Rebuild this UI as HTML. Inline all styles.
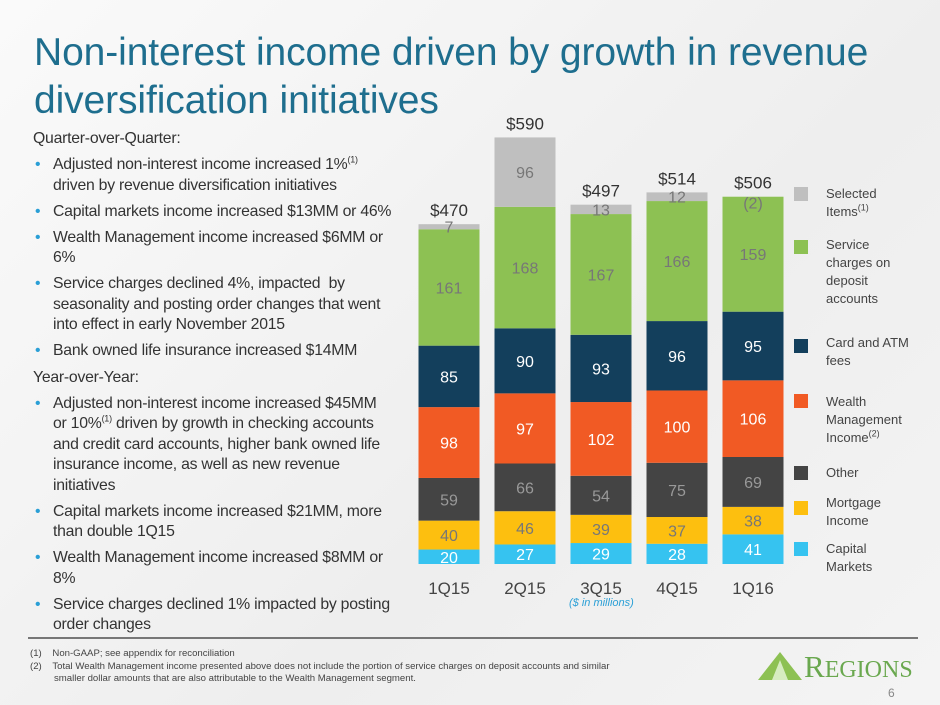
<!DOCTYPE html>
<html><head><meta charset="utf-8"><style>
body{margin:0;width:940px;height:705px;overflow:hidden;font-family:"Liberation Sans",sans-serif;background:linear-gradient(135deg,#fafafa 0%,#eeeeee 60%,#f4f4f4 100%);position:relative}
.t{position:absolute}
h1{position:absolute;left:34px;top:29px;margin:0;font-weight:normal;font-size:39px;line-height:48px;color:#1e6e8e;letter-spacing:-0.1px;white-space:nowrap}
.left{position:absolute;left:33px;top:129px;width:390px;font-size:15.8px;color:#333;line-height:20.5px;white-space:nowrap;letter-spacing:-0.25px}
.left p{margin:0 0 5.6px 0}
.left .b{padding-left:20px;position:relative}
.left .b:before{content:"•";position:absolute;left:2px;color:#2a9fd6}
sup{font-size:9px;line-height:0}
.leg{position:absolute;left:826px;font-size:13px;color:#444;line-height:18px}
.sw{position:absolute;left:794px;width:14px;height:14px}
</style></head><body>
<h1>Non-interest income driven by growth in revenue<br>diversification initiatives</h1>
<div class="left">
<p>Quarter-over-Quarter:</p>
<p class="b">Adjusted non-interest income increased 1%<sup>(1)</sup><br>driven by revenue diversification initiatives</p>
<p class="b">Capital markets income increased $13MM or 46%</p>
<p class="b">Wealth Management income increased $6MM or<br>6%</p>
<p class="b">Service charges declined 4%, impacted &nbsp;by<br>seasonality and posting order changes that went<br>into effect in early November 2015</p>
<p class="b">Bank owned life insurance increased $14MM</p>
<p>Year-over-Year:</p>
<p class="b">Adjusted non-interest income increased $45MM<br>or 10%<sup>(1)</sup> driven by growth in checking accounts<br>and credit card accounts, higher bank owned life<br>insurance income, as well as new revenue<br>initiatives</p>
<p class="b">Capital markets income increased $21MM, more<br>than double 1Q15</p>
<p class="b">Wealth Management income increased $8MM or<br>8%</p>
<p class="b">Service charges declined 1% impacted by posting<br>order changes</p>
</div>
<svg id="chart" style="position:absolute;left:0;top:0" width="940" height="705"></svg>
<div class="t" style="left:569px;top:597px;font-size:11px;font-style:italic;color:#2a9fd6">($ in millions)</div>
<div class="sw" style="top:187px;background:#bfbfbf"></div>
<div class="leg" style="top:185px">Selected<br>Items<sup>(1)</sup></div>
<div class="sw" style="top:240px;background:#8dc153"></div>
<div class="leg" style="top:236px">Service<br>charges on<br>deposit<br>accounts</div>
<div class="sw" style="top:339px;background:#133f5c"></div>
<div class="leg" style="top:334px">Card and ATM<br>fees</div>
<div class="sw" style="top:394px;background:#f15a24"></div>
<div class="leg" style="top:393px">Wealth<br>Management<br>Income<sup>(2)</sup></div>
<div class="sw" style="top:466px;background:#444"></div>
<div class="leg" style="top:464px">Other</div>
<div class="sw" style="top:501px;background:#fdbf0f"></div>
<div class="leg" style="top:494px">Mortgage<br>Income</div>
<div class="sw" style="top:542px;background:#36c3f0"></div>
<div class="leg" style="top:540px">Capital<br>Markets</div>
<div class="t" style="left:28px;top:637px;width:890px;height:2px;background:#777"></div>
<div class="t" style="left:30px;top:648px;font-size:9.6px;color:#444;line-height:12.5px;white-space:nowrap">(1)&nbsp;&nbsp;&nbsp;&nbsp;Non-GAAP; see appendix for reconciliation<br>(2)&nbsp;&nbsp;&nbsp;&nbsp;Total Wealth Management income presented above does not include the portion of service charges on deposit accounts and similar<br>&nbsp;&nbsp;&nbsp;&nbsp;&nbsp;&nbsp;&nbsp;&nbsp;&nbsp;smaller dollar amounts that are also attributable to the Wealth Management segment.</div>
<svg class="t" style="left:758px;top:652px" width="44" height="28"><polygon points="22,0 44,28 0,28" fill="#8dc153"/><polygon points="22,8 30,28 14,28" fill="#d6ecc0"/></svg>
<div class="t" style="left:804px;top:649px;font-family:'Liberation Serif',serif;font-size:31px;color:#6aa84f">R<span style="font-size:24px">EGIONS</span></div>
<div class="t" style="left:888px;top:686px;font-size:12px;color:#888">6</div>
<script>
const categories=["1Q15","2Q15","3Q15","4Q15","1Q16"];
const capital=[20,27,29,28,41];
const mortgage=[40,46,39,37,38];
const other=[59,66,54,75,69];
const wealth=[98,97,102,100,106];
const card=[85,90,93,96,95];
const service=[161,168,167,166,159];
const selected=[7,96,13,12,-2];
const totals=["$470","$590","$497","$514","$506"];
const series=[
 {v:capital,c:"#36c3f0",tc:"#fff",n:"capital"},
 {v:mortgage,c:"#fdbf0f",tc:"#777",n:"mortgage"},
 {v:other,c:"#444444",tc:"#999",n:"other"},
 {v:wealth,c:"#f15a24",tc:"#fff",n:"wealth"},
 {v:card,c:"#133f5c",tc:"#fff",n:"card"},
 {v:service,c:"#8dc153",tc:"#777",n:"service"},
 {v:selected,c:"#bfbfbf",tc:"#777",n:"selected"}];
const svg=document.getElementById('chart');const NS="http://www.w3.org/2000/svg";
const base=564,k=0.723,bw=61;
const xc=i=>449+i*76;const y=v=>base-v*k;
function el(t,a){const e=document.createElementNS(NS,t);for(const p in a)e.setAttribute(p,a[p]);svg.appendChild(e);return e;}
categories.forEach((c,i)=>{
 let cum=0;
 series.forEach(s=>{
  const v=s.v[i];
  if(v>0){
   const r=el('rect',{x:xc(i)-bw/2,y:y(cum+v),width:bw,height:v*k,fill:s.c});
   
   
   const t=el('text',{x:xc(i),y:y(cum+v/2)+6,'text-anchor':'middle','font-size':16,fill:s.tc});
   t.textContent=v;
   
   
   cum+=v;
  } else {
   const t=el('text',{x:xc(i),y:y(cum)+12,'text-anchor':'middle','font-size':16,fill:s.tc});
   t.textContent='('+(-v)+')';
   
   
  }
 });
 const tt=el('text',{x:xc(i),y:y(cum)-8,'text-anchor':'middle','font-size':17,fill:'#333'});
 tt.textContent=totals[i];
 
 
 const xl=el('text',{x:xc(i),y:594,'text-anchor':'middle','font-size':17,fill:'#444'});
 xl.textContent=c;
 
 
});
</script>
</body></html>
